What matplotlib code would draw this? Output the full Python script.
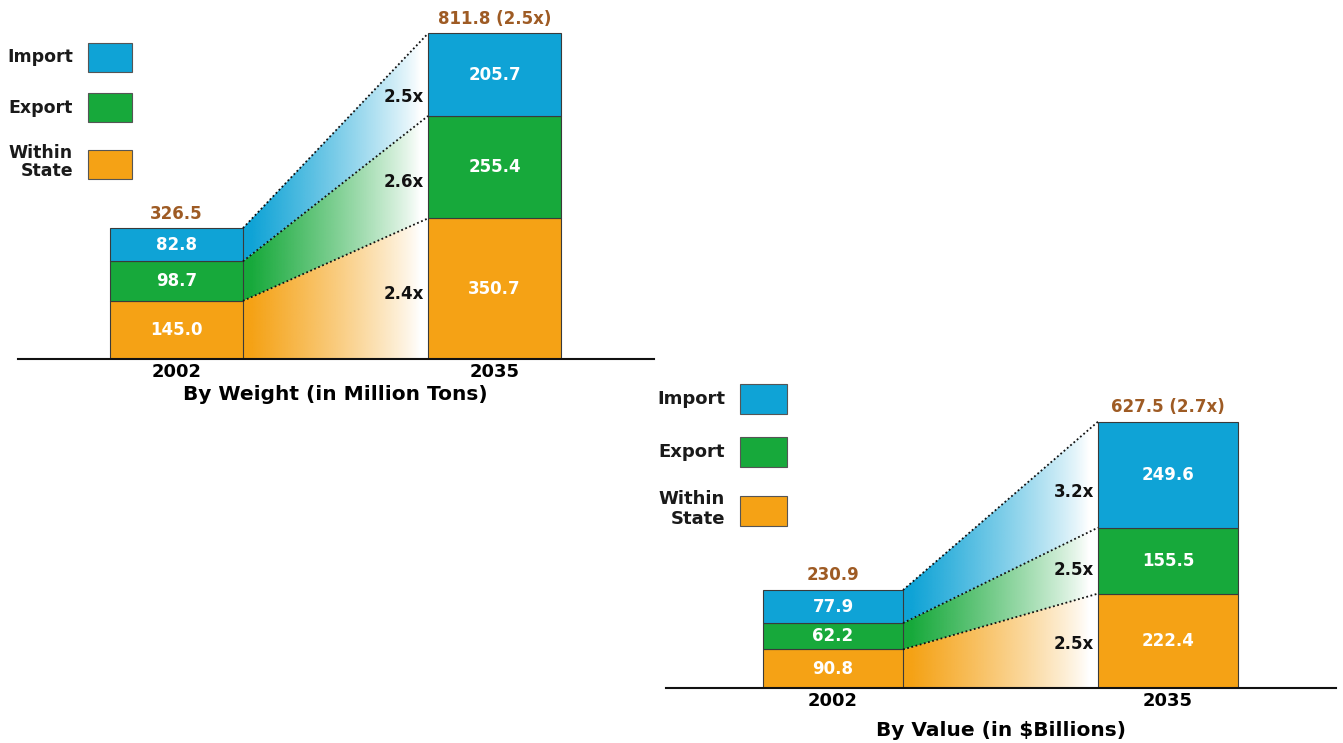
import numpy as np
import matplotlib
matplotlib.use("Agg")
import matplotlib.pyplot as plt
from matplotlib.patches import Polygon, Rectangle

# ---------------- data ----------------
years = ["2002", "2035"]
categories = ["Within State", "Export", "Import"]          # bottom -> top
weight_2002 = [145.0, 98.7, 82.8]
weight_2035 = [350.7, 255.4, 205.7]
weight_growth = ["2.4x", "2.6x", "2.5x"]
weight_total_growth = "2.5x"
value_2002 = [90.8, 62.2, 77.9]
value_2035 = [222.4, 155.5, 249.6]
value_growth = ["2.5x", "2.5x", "3.2x"]
value_total_growth = "2.7x"
titles = ["By Weight (in Million Tons)", "By Value (in $Billions)"]

colors = ["#F5A215", "#17A93B", "#0FA3D6"]   # within, export, import
total_color = "#9E5B24"
edge = "#3a3a3a"

W, H = 1343, 743
fig = plt.figure(figsize=(W / 100, H / 100), dpi=100)
plt.rcParams["font.family"] = ["DejaVu Sans"]


def make_axes(left_px, right_px, base_px, px_per_unit, ymax):
    height_px = ymax * px_per_unit
    return fig.add_axes([left_px / W, (H - base_px) / H,
                         (right_px - left_px) / W, height_px / H])


def draw_panel(ax, v0, v1, growth, total_growth, title, ymax, labelpad):
    width = 0.418
    xs = [0, 1]
    b0 = np.concatenate([[0], np.cumsum(v0)[:-1]])
    b1 = np.concatenate([[0], np.cumsum(v1)[:-1]])
    xa = xs[0] + width / 2
    xb = xs[1] - width / 2

    # gradient connectors
    grad = np.clip(np.linspace(1.05, -0.05, 256), 0, 1) ** 0.85
    for i in range(len(v0)):
        rgb = matplotlib.colors.to_rgb(colors[i])
        img = np.zeros((2, 256, 4))
        img[..., :3] = rgb
        img[..., 3] = grad
        poly = Polygon([(xa, b0[i]), (xb, b1[i]), (xb, b1[i] + v1[i]),
                        (xa, b0[i] + v0[i])], closed=True,
                       facecolor="none", edgecolor="none")
        ax.add_patch(poly)
        im = ax.imshow(img, extent=[xa, xb, 0, ymax], aspect="auto",
                       interpolation="bilinear", zorder=1, origin="lower")
        im.set_clip_path(poly)
        # dotted top edge
        ax.plot([xa, xb], [b0[i] + v0[i], b1[i] + v1[i]], color="#111111",
                linestyle=(0, (1, 1.4)), lw=1.3, zorder=3)
        # growth label
        t = 0.87
        lo = b0[i] + t * (b1[i] - b0[i])
        hi = (b0[i] + v0[i]) + t * ((b1[i] + v1[i]) - (b0[i] + v0[i]))
        ax.annotate(growth[i], xy=(xb, (lo + hi) / 2), xytext=(-3, 0),
                    textcoords="offset points", ha="right", va="center",
                    fontsize=12, fontweight="bold", color="#111111", zorder=4)

    # bars
    for i in range(len(v0)):
        ax.bar(xs, [v0[i], v1[i]], width=width, bottom=[b0[i], b1[i]],
               color=colors[i], edgecolor=edge, linewidth=0.8, zorder=2)
        for x, b, v in zip(xs, [b0[i], b1[i]], [v0[i], v1[i]]):
            ax.text(x, b + v / 2, f"{v:.1f}", ha="center", va="center",
                    color="white", fontsize=12, fontweight="bold", zorder=4)

    t0, t1 = sum(v0), sum(v1)
    ax.annotate(f"{t0:.1f}", xy=(xs[0], t0), xytext=(0, 4),
                textcoords="offset points", ha="center", va="bottom",
                fontsize=12, fontweight="bold", color=total_color)
    ax.annotate(f"{t1:.1f} ({total_growth})", xy=(xs[1], t1), xytext=(0, 4),
                textcoords="offset points", ha="center", va="bottom",
                fontsize=12, fontweight="bold", color=total_color)

    ax.set_xlim(-0.5, 1.5)
    ax.set_ylim(0, ymax)
    ax.set_xticks(xs)
    ax.set_xticklabels(years, fontsize=13, fontweight="bold")
    ax.tick_params(axis="x", length=0, pad=3)
    ax.set_yticks([])
    for s in ["left", "right", "top"]:
        ax.spines[s].set_visible(False)
    ax.spines["bottom"].set_linewidth(1.5)
    ax.spines["bottom"].set_color("#111111")
    ax.set_xlabel(title, fontsize=14.5, fontweight="bold", labelpad=labelpad)
    ax.patch.set_alpha(0)


ax1 = make_axes(17.5, 653.5, 359, 0.401, 850)
draw_panel(ax1, weight_2002, weight_2035, weight_growth, weight_total_growth,
           titles[0], 850, 3)
ax2 = make_axes(665.5, 1335.5, 688, 0.4244, 700)
draw_panel(ax2, value_2002, value_2035, value_growth, value_total_growth,
           titles[1], 700, 7.5)


# legends (figure pixel coordinates)
def legend(text_right, box_x, box_w, boxes, text_ys, ls, fs):
    labels = ["Import", "Export", "Within\nState"]
    cols = [colors[2], colors[1], colors[0]]
    for lab, col, (y0, y1), ty in zip(labels, cols, boxes, text_ys):
        fig.add_artist(Rectangle((box_x / W, 1 - y1 / H), box_w / W,
                                 (y1 - y0) / H, transform=fig.transFigure,
                                 facecolor=col, edgecolor="#555555", lw=0.8))
        fig.text(text_right / W, 1 - ty / H, lab, ha="right", va="center",
                 multialignment="right", fontsize=fs, fontweight="bold",
                 color="#1a1a1a", linespacing=ls)


legend(73, 88, 44, [(43, 72), (93, 122), (150, 179)], [57, 108, 162], 1.0, 12.5)
legend(725, 740, 47, [(384, 414), (437, 467), (496, 526)], [399, 452, 509], 1.1, 13)

fig.savefig("out.png", dpi=100)
